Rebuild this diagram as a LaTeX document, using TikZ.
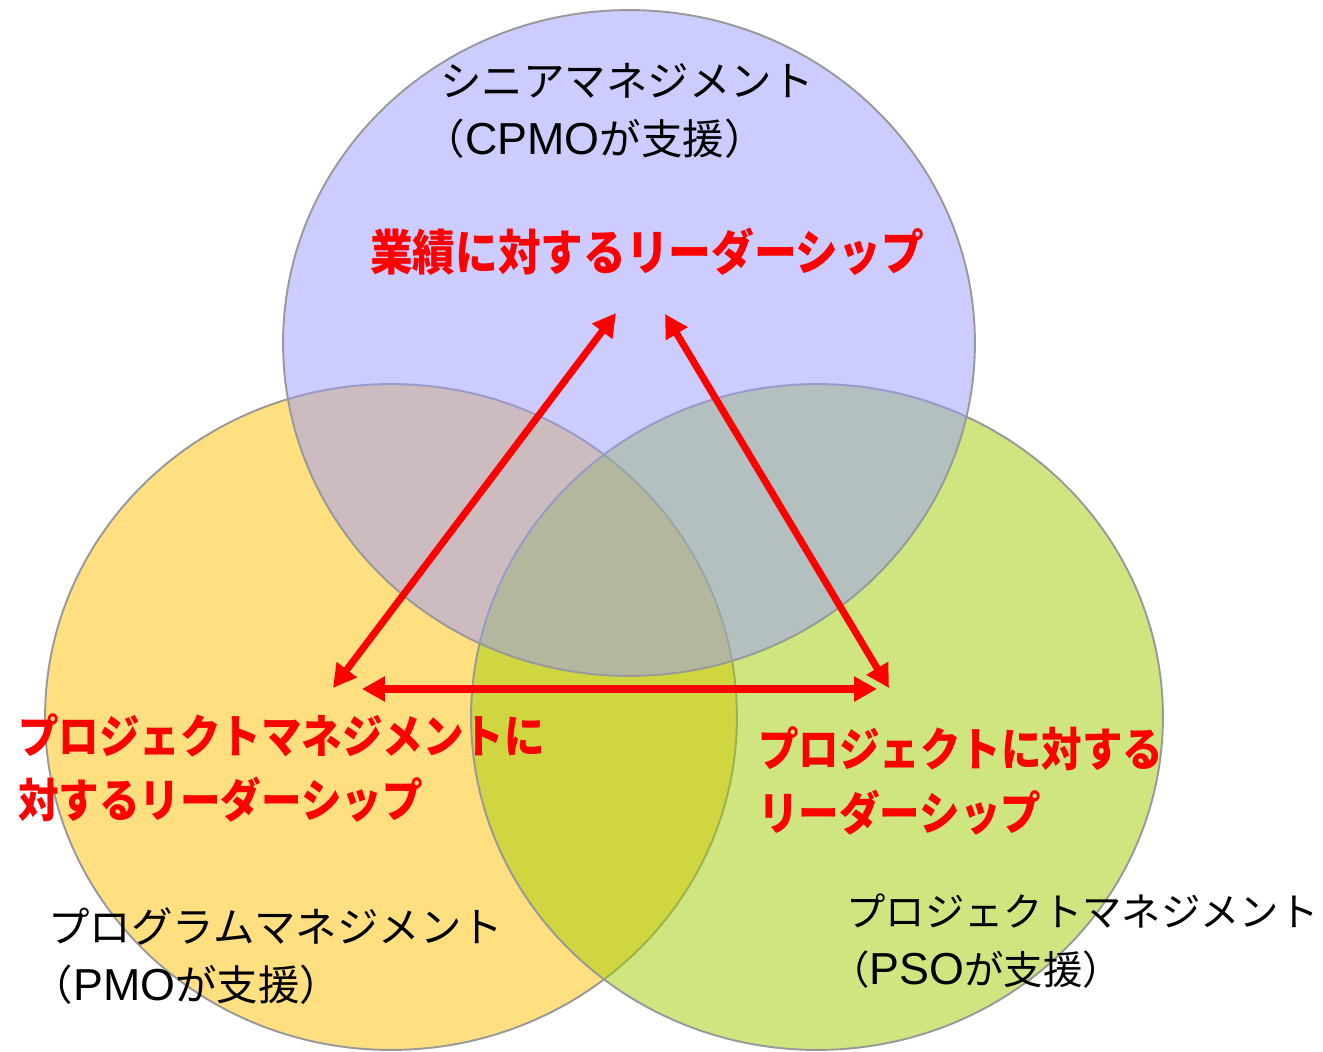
\documentclass[tikz,border=0pt]{standalone}
\usepackage{fontspec}
\usetikzlibrary{arrows.meta}
\newfontfamily\jpfont{Noto Sans CJK JP}
\newfontfamily\redfont{Noto Sans CJK JP}[FakeStretch=0.88]
\newfontfamily\latfont{Liberation Sans}
\newcommand{\lat}[1]{{\latfont\fontsize{25.5pt}{33pt}\selectfont #1}}
\definecolor{venblue}{HTML}{9999FF}
\definecolor{venyellow}{HTML}{FFC000}
\definecolor{vengreen}{HTML}{A0CC00}
\definecolor{venline}{HTML}{999999}
\tikzset{every node/.style={inner sep=0pt, align=left, font=\jpfont\fontsize{23.6pt}{33pt}\selectfont},
  set/.style={draw=venline, line width=1.1pt, fill opacity=0.5},
  lead/.style={red, line width=4pt, {Triangle[length=0.46cm,width=0.48cm]}-{Triangle[length=0.46cm,width=0.48cm]}},
  redtext/.style={red, font=\redfont\bfseries\fontsize{26.2pt}{36pt}\selectfont}}

\begin{document}
\begin{tikzpicture}[x=0.02cm, y=-0.02cm]
  \useasboundingbox (0,0) rectangle (1323,1052);
  % the three sets
  \draw[set, fill=venyellow] (391,717) ellipse [x radius=6.92cm, y radius=6.66cm];
  \draw[set, fill=vengreen]  (817,717) ellipse [x radius=6.92cm, y radius=6.66cm];
  \draw[set, fill=venblue]   (629,343) ellipse [x radius=6.92cm, y radius=6.66cm];

  \coordinate (perfL) at (616,313);
  \coordinate (perfR) at (665,314);
  \coordinate (progT) at (333,688);
  \coordinate (progR) at (362,689);
  \coordinate (projT) at (889,688);
  \coordinate (projL) at (877,689);
  \draw[lead] (perfL) -- (progT);
  \draw[lead] (perfR) -- (projT);
  \draw[lead] (progR) -- (projL);

  \node[anchor=west] (senior) at (440,111) {シニアマネジメント\\\hspace*{-0.4em}（\lat{CPMO}が支援）};
  \node[anchor=west] (prog) at (48,956) {プログラムマネジメント\\\hspace*{-0.4em}（\lat{PMO}が支援）};
  \node[anchor=west, font=\jpfont\fontsize{22.4pt}{33pt}\selectfont] (proj) at (846,941) {プロジェクトマネジメント\\\hspace*{-0.4em}（\lat{PSO}が支援）};

  \node[redtext, font=\redfont\bfseries\fontsize{27.6pt}{36pt}\selectfont] (perf) at (647,252) {業績に対するリーダーシップ};
  \node[redtext, anchor=west] (proglead) at (18,768) {プロジェクトマネジメントに\\対するリーダーシップ};
  \node[redtext, anchor=west] (projlead) at (758,781) {プロジェクトに対する\\リーダーシップ};
 \end{tikzpicture}
\end{document}
